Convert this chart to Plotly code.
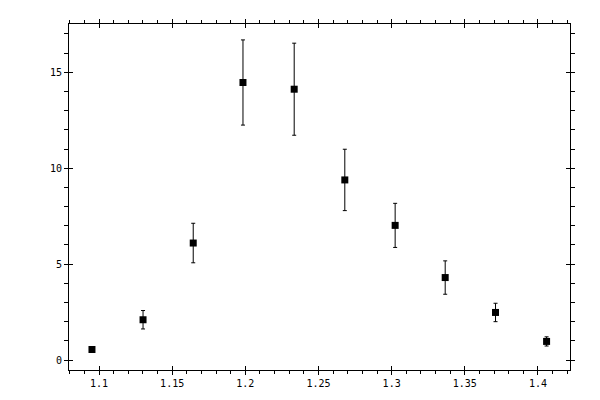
import plotly.graph_objects as go

# data
x_vals = [1.0952, 1.1301, 1.1644, 1.1984, 1.2334, 1.2680, 1.3024, 1.3366, 1.3710, 1.4059]
y_vals = [0.55, 2.10, 6.10, 14.47, 14.12, 9.39, 7.02, 4.30, 2.48, 0.97]
y_err = [0.12, 0.48, 1.03, 2.22, 2.40, 1.60, 1.15, 0.87, 0.48, 0.24]

x_ticks = [1.1, 1.15, 1.2, 1.25, 1.3, 1.35, 1.4]
x_labels = ["1.1", "1.15", "1.2", "1.25", "1.3", "1.35", "1.4"]
y_ticks = [0, 5, 10, 15]
y_labels = ["0", "5", "10", "15"]

X_RANGE = [1.0795, 1.4219]
Y_RANGE = [-0.52, 17.52]
FONT = dict(family="DejaVu Sans Mono", size=10, color="black")

fig = go.Figure()

fig.add_trace(go.Scatter(
    x=x_vals, y=y_vals,
    mode="markers",
    marker=dict(symbol="square", size=7, color="black"),
    error_y=dict(type="data", array=y_err, visible=True,
                 color="black", thickness=1, width=2),
    showlegend=False,
))

axis_common = dict(
    showline=True, linecolor="black", linewidth=1,
    mirror="ticks", showgrid=False, zeroline=False,
    ticks="outside", ticklen=4, tickwidth=1, tickcolor="black",
    tickfont=FONT,
)

# page body has an 8px margin, so the plot box is pulled up/left by 8px
fig.update_layout(
    width=600, height=400,
    margin=dict(l=61, r=38, t=11, b=38),
    plot_bgcolor="white", paper_bgcolor="white",
    xaxis=dict(range=X_RANGE, tickvals=x_ticks, ticktext=x_labels,
               minor=dict(dtick=0.01, tick0=1.0, ticks="outside", ticklen=3,
                          tickcolor="black", tickwidth=1, showgrid=False),
               **axis_common),
    yaxis=dict(range=Y_RANGE, tickvals=y_ticks, ticktext=y_labels,
               minor=dict(dtick=1, tick0=0, ticks="outside", ticklen=4,
                          tickcolor="black", tickwidth=1, showgrid=False),
               **axis_common),
    # inner halves of the major ticks
    xaxis2=dict(overlaying="x", matches="x", range=X_RANGE, tickvals=x_ticks,
                showticklabels=False, ticks="inside", ticklen=4, tickcolor="black",
                mirror="ticks", showline=False, showgrid=False, zeroline=False),
    yaxis2=dict(overlaying="y", matches="y", range=Y_RANGE, tickvals=y_ticks,
                showticklabels=False, ticks="inside", ticklen=4, tickcolor="black",
                mirror="ticks", showline=False, showgrid=False, zeroline=False),
)

# invisible trace to bring the overlay axes to life
fig.add_trace(go.Scatter(x=[x_vals[0]], y=[y_vals[0]], xaxis="x2", yaxis="y2",
                         mode="markers", marker=dict(opacity=0),
                         hoverinfo="skip", showlegend=False))

fig.write_html("out.html")
